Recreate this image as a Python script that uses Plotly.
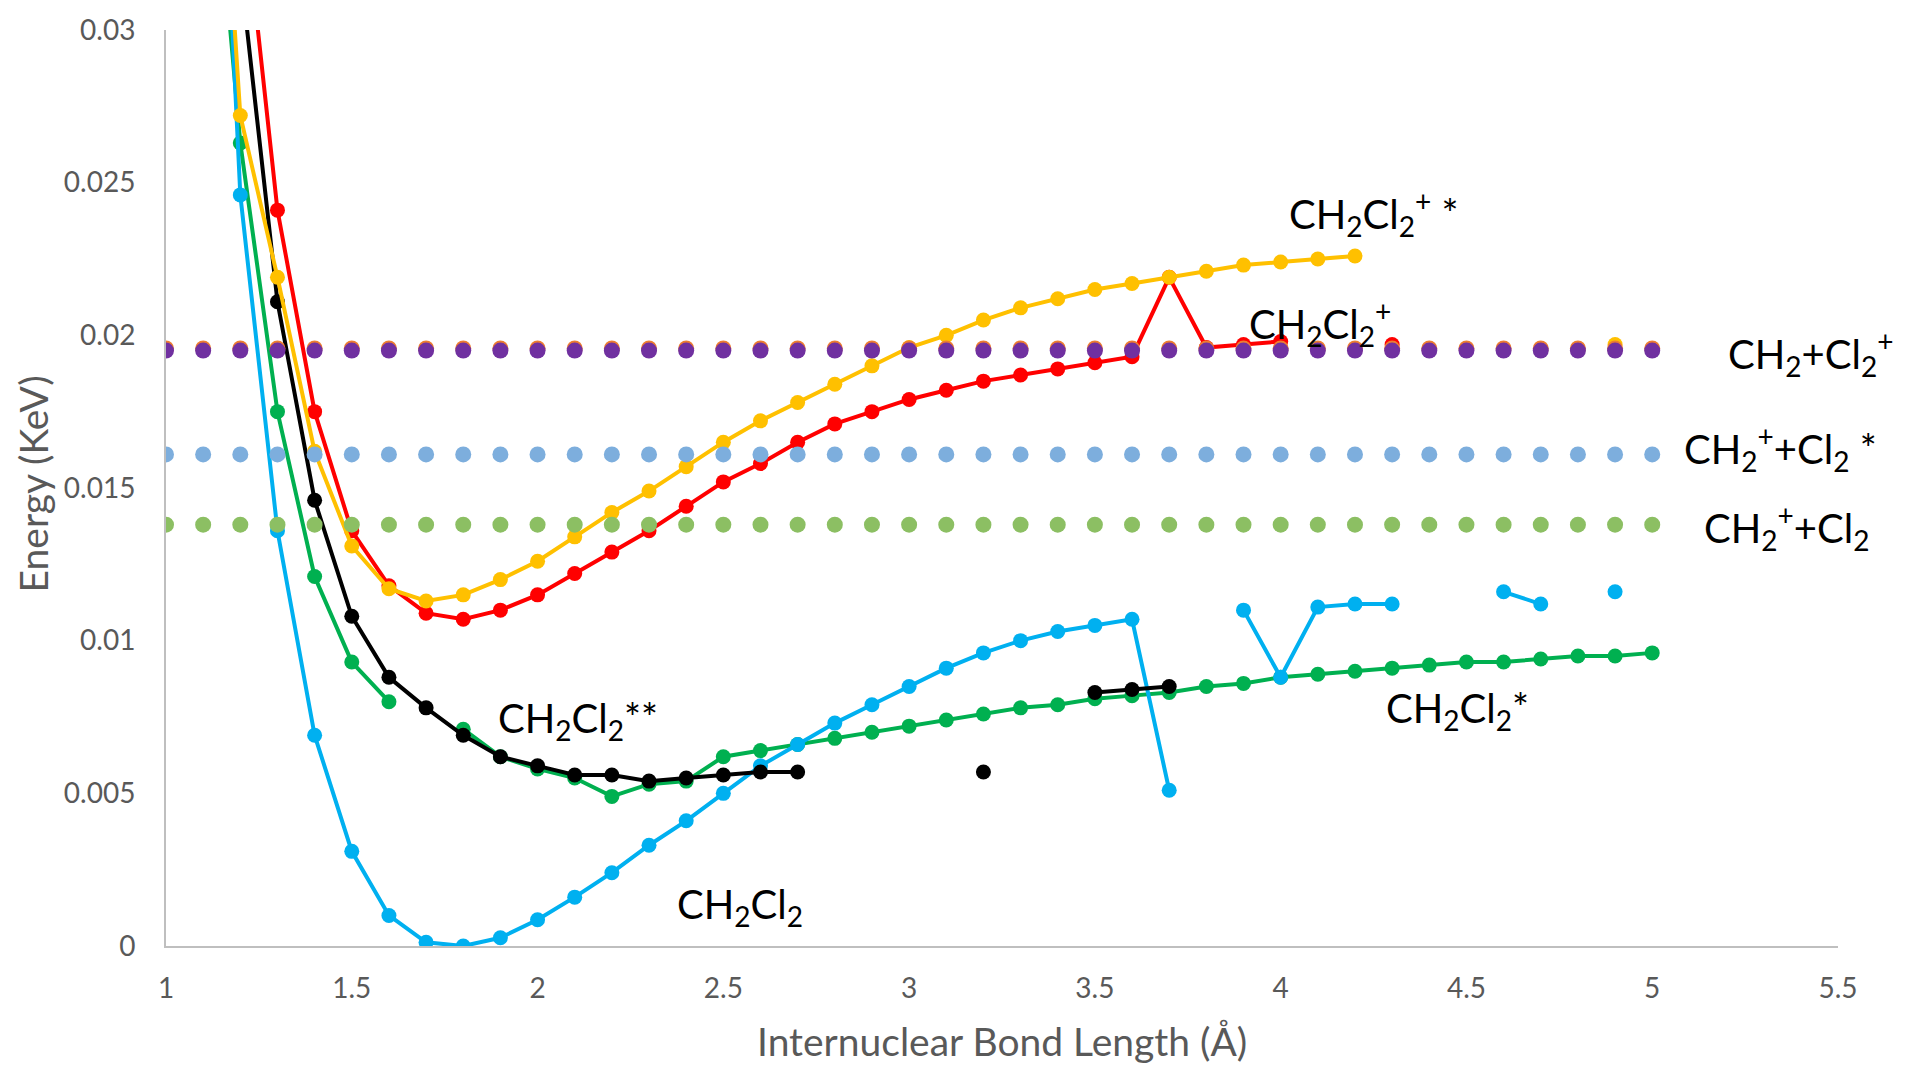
import plotly.graph_objects as go

# ---------------- data ----------------
bond_length = [1.0, 1.1, 1.2, 1.3, 1.4, 1.5, 1.6, 1.7, 1.8, 1.9,
               2.0, 2.1, 2.2, 2.3, 2.4, 2.5, 2.6, 2.7, 2.8, 2.9,
               3.0, 3.1, 3.2, 3.3, 3.4, 3.5, 3.6, 3.7, 3.8, 3.9,
               4.0, 4.1, 4.2, 4.3, 4.4, 4.5, 4.6, 4.7, 4.8, 4.9, 5.0]

ch2cl2 = [None, 0.050, 0.0246, 0.0136, 0.0069, 0.0031, 0.0010, 0.00012, 0.0, 0.00027,
          0.00086, 0.0016, 0.0024, 0.0033, 0.0041, 0.0050, 0.0059, 0.0066, 0.0073, 0.0079,
          0.0085, 0.0091, 0.0096, 0.0100, 0.0103, 0.0105, 0.0107, 0.0051, None, 0.0110,
          0.0088, 0.0111, 0.0112, 0.0112, None, None, 0.0116, 0.0112, None, 0.0116, None]

ch2cl2_star = [None, 0.040, 0.0263, 0.0175, 0.0121, 0.0093, 0.0080, None, 0.0071, 0.0062,
               0.0058, 0.0055, 0.0049, 0.0053, 0.0054, 0.0062, 0.0064, 0.0066, 0.0068, 0.0070,
               0.0072, 0.0074, 0.0076, 0.0078, 0.0079, 0.0081, 0.0082, 0.0083, 0.0085, 0.0086,
               0.0088, 0.0089, 0.0090, 0.0091, 0.0092, 0.0093, 0.0093, 0.0094, 0.0095, 0.0095, 0.0096]

ch2cl2_2star = [None, None, 0.032, 0.0211, 0.0146, 0.0108, 0.0088, 0.0078, 0.0069, 0.0062,
                0.0059, 0.0056, 0.0056, 0.0054, 0.0055, 0.0056, 0.0057, 0.0057, None, None,
                None, None, 0.0057, None, None, 0.0083, 0.0084, 0.0085, None, None,
                None, None, None, None, None, None, None, None, None, None, None]

ch2cl2_plus = [None, None, 0.0353, 0.0241, 0.0175, 0.0136, 0.0118, 0.0109, 0.0107, 0.0110,
               0.0115, 0.0122, 0.0129, 0.0136, 0.0144, 0.0152, 0.0158, 0.0165, 0.0171, 0.0175,
               0.0179, 0.0182, 0.0185, 0.0187, 0.0189, 0.0191, 0.0193, 0.0219, 0.0196, 0.0197,
               0.0198, None, None, 0.0197, None, None, None, None, None, None, None]

ch2cl2_plus_star = [None, 0.046, 0.0272, 0.0219, 0.0162, 0.0131, 0.0117, 0.0113, 0.0115, 0.0120,
                    0.0126, 0.0134, 0.0142, 0.0149, 0.0157, 0.0165, 0.0172, 0.0178, 0.0184, 0.0190,
                    0.0196, 0.0200, 0.0205, 0.0209, 0.0212, 0.0215, 0.0217, 0.0219, 0.0221, 0.0223,
                    0.0224, 0.0225, 0.0226, None, None, None, None, None, None, 0.0197, None]

# dissociation limits (constant levels)
limit_ch2_cl2plus = 0.0195
limit_hidden_orange = 0.01957
limit_ch2plus_cl2star = 0.0161
limit_ch2plus_cl2 = 0.0138

x_ticks = [1, 1.5, 2, 2.5, 3, 3.5, 4, 4.5, 5, 5.5]
x_ticktext = ["1", "1.5", "2", "2.5", "3", "3.5", "4", "4.5", "5", "5.5"]
y_ticks = [0, 0.005, 0.01, 0.015, 0.02, 0.025, 0.03]
y_ticktext = ["0", "0.005", "0.01", "0.015", "0.02", "0.025", "0.03"]

labels = [
    ("CH<sub>2</sub>Cl<sub>2</sub><sup>+</sup> *", 4.251, 0.0240),
    ("CH<sub>2</sub>Cl<sub>2</sub><sup>+</sup>", 4.105, 0.0204),
    ("CH<sub>2</sub>+Cl<sub>2</sub><sup>+</sup>", 5.427, 0.0194),
    ("CH<sub>2</sub><sup>+</sup>+Cl<sub>2</sub> *", 5.346, 0.0163),
    ("CH<sub>2</sub><sup>+</sup>+Cl<sub>2</sub>", 5.362, 0.0137),
    ("CH<sub>2</sub>Cl<sub>2</sub>**", 2.109, 0.0074),
    ("CH<sub>2</sub>Cl<sub>2</sub>*", 4.477, 0.0077),
    ("CH<sub>2</sub>Cl<sub>2</sub>", 2.545, 0.0013),
]

# ---------------- figure ----------------
FONT = "Lato, Carlito, 'Open Sans', sans-serif"
fig = go.Figure()

def curve(y, color, name):
    fig.add_trace(go.Scatter(
        x=bond_length, y=y, mode="lines+markers", name=name,
        line=dict(color=color, width=4),
        marker=dict(color=color, size=15),
        connectgaps=False, showlegend=False))

curve(ch2cl2_star, "#00B050", "CH2Cl2*")
curve(ch2cl2, "#00B0F0", "CH2Cl2")
curve(ch2cl2_2star, "#000000", "CH2Cl2**")
curve(ch2cl2_plus, "#FF0000", "CH2Cl2+")
curve(ch2cl2_plus_star, "#FFC000", "CH2Cl2+*")

def level(value, color, name):
    fig.add_trace(go.Scatter(
        x=bond_length, y=[value] * len(bond_length), mode="markers", name=name,
        marker=dict(color=color, size=16), showlegend=False))

level(limit_ch2plus_cl2, "#8CBF63", "CH2+ + Cl2")
level(limit_ch2plus_cl2star, "#7DAEDD", "CH2+ + Cl2*")
level(limit_hidden_orange, "#ED7D31", "hidden")
level(limit_ch2_cl2plus, "#7030A0", "CH2 + Cl2+")

for text, lx, ly in labels:
    fig.add_annotation(x=lx, y=ly, text=text, showarrow=False,
                       xanchor="center", yanchor="middle",
                       font=dict(family=FONT, size=40, color="#000000"))

fig.add_annotation(xref="paper", yref="paper", x=0.5, y=-0.104,
                   text="Internuclear Bond Length (Å)", showarrow=False,
                   xanchor="center", yanchor="middle",
                   font=dict(family=FONT, size=39, color="#595959"))
fig.add_annotation(xref="paper", yref="paper", x=-0.0795, y=0.504,
                   text="Energy (KeV)", showarrow=False, textangle=-90,
                   xanchor="center", yanchor="middle",
                   font=dict(family=FONT, size=39, color="#595959"))

fig.update_layout(
    width=1905, height=1066,
    margin=dict(l=166, r=67, t=19, b=120),
    paper_bgcolor="white", plot_bgcolor="white",
    showlegend=False,
    xaxis=dict(range=[1, 5.5], tickvals=x_ticks, ticktext=x_ticktext,
               showgrid=False, zeroline=False, showline=True,
               linecolor="#BFBFBF", linewidth=2, ticks="",
               ticklabelstandoff=16, ticklabeloverflow="allow",
               tickfont=dict(family=FONT, size=28, color="#595959")),
    yaxis=dict(range=[0, 0.03], tickvals=y_ticks, ticktext=y_ticktext,
               showgrid=False, zeroline=False, showline=True,
               linecolor="#BFBFBF", linewidth=2, ticks="",
               ticklabelstandoff=23, ticklabeloverflow="allow",
               tickfont=dict(family=FONT, size=28, color="#595959")),
)

fig.write_html("out.html",
               config={"displayModeBar": False},
               post_script="document.body.style.margin='0';document.body.style.padding='0';document.body.style.overflow='hidden';")
